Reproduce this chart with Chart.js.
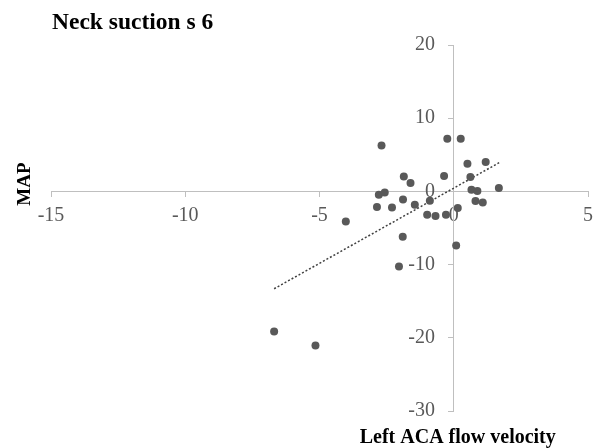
<!DOCTYPE html>
<html>
<head>
<meta charset="utf-8">
<script src="https://cdn.jsdelivr.net/npm/chart.js@4/dist/chart.umd.min.js"></script>
<style>
  html, body { margin: 0; padding: 0; background: #ffffff; }
  #wrap { position: relative; width: 595px; height: 448px; }
</style>
</head>
<body>
<div id="wrap"><canvas id="c" width="595" height="448"></canvas></div>
<script>
// ---- data ----
const flowVelocity = [-2.69, -0.24, 0.26, 0.51, 1.19, -0.36, 0.62, -1.86, -1.61, 1.68,
                      0.66, 0.88, -2.79, -2.57, -1.89, -0.89, 0.81, 1.08, -1.45, -2.86,
                      -2.30, 0.15, -0.99, -0.68, -0.29, -4.02, -1.90, 0.09, -2.04, -6.69, -5.15];
const mapValues    = [6.28, 7.2, 7.2, 3.78, 4.0, 2.09, 1.96, 2.05, 1.14, 0.45,
                      0.23, 0.05, -0.45, -0.14, -1.09, -1.27, -1.32, -1.50, -1.82, -2.14,
                      -2.19, -2.28, -3.19, -3.37, -3.19, -4.10, -6.19, -7.38, -10.25, -19.13, -21.04];
const trendX = [-6.69, 1.69];
const trendY = [-13.3, 3.92];
const xTicks = [-15, -10, -5, 0, 5];
const yTicks = [-30, -20, -10, 0, 10, 20];
const chartTitle = "Neck suction s 6";
const xTitle = "Left ACA flow velocity";
const yTitle = "MAP";

const points = flowVelocity.map((x, i) => ({ x: x, y: mapValues[i] }));
const trend = trendX.map((x, i) => ({ x: x, y: trendY[i] }));

const serif = "'Liberation Serif', 'Times New Roman', serif";

const textPlugin = {
  id: 'texts',
  afterDraw(chart) {
    const ctx = chart.ctx;
    const xs = chart.scales.x;
    ctx.save();
    ctx.fillStyle = '#000000';
    // title
    ctx.font = "bold 23.5px " + serif;
    ctx.textAlign = 'left';
    ctx.textBaseline = 'alphabetic';
    ctx.fillText(chartTitle, 52, 29);
    // x title
    ctx.font = "bold 20px " + serif;
    ctx.textAlign = 'center';
    ctx.fillText(xTitle, xs.getPixelForValue(0) + 4, 443);
    // y title
    ctx.font = "bold 19px " + serif;
    ctx.translate(30, 184);
    ctx.rotate(-Math.PI / 2);
    ctx.textAlign = 'center';
    ctx.textBaseline = 'alphabetic';
    ctx.fillText(yTitle, 0, 0);
    ctx.restore();
  }
};

const tickFont = { family: serif, size: 20 };

new Chart(document.getElementById('c'), {
  type: 'scatter',
  data: {
    datasets: [
      {
        label: 'MAP',
        data: points,
        backgroundColor: '#595959',
        borderWidth: 0,
        pointRadius: 4,
        pointHoverRadius: 4
      },
      {
        type: 'line',
        label: 'Trend',
        data: trend,
        borderColor: '#404040',
        borderWidth: 1.5,
        borderDash: [2, 2],
        pointRadius: 0,
        fill: false,
        showLine: true
      }
    ]
  },
  options: {
    responsive: false,
    animation: false,
    layout: { padding: { left: 51, right: 7, top: 45, bottom: 37 } },
    plugins: {
      legend: { display: false },
      tooltip: { enabled: false },
      title: { display: false }
    },
    scales: {
      x: {
        type: 'linear',
        position: { y: 0 },
        min: -15, max: 5,
        afterBuildTicks: (s) => { s.ticks = xTicks.map(v => ({ value: v })); },
        afterFit: (s) => { s.paddingLeft = 0; s.paddingRight = 0; },
        grid: { drawOnChartArea: false, drawTicks: true, tickLength: 5, color: '#bfbfbf' },
        border: { display: true, color: '#bfbfbf', width: 1 },
        ticks: { color: '#595959', font: tickFont, padding: 7, maxRotation: 0 }
      },
      y: {
        type: 'linear',
        position: { x: 0 },
        min: -30, max: 20,
        afterBuildTicks: (s) => { s.ticks = yTicks.map(v => ({ value: v })); },
        grid: { drawOnChartArea: false, drawTicks: true, tickLength: 5, color: '#bfbfbf' },
        border: { display: true, color: '#bfbfbf', width: 1 },
        ticks: { display: false }
      },
      yLabels: {
        type: 'linear',
        position: { x: -0.7 },
        min: -30, max: 20,
        afterBuildTicks: (s) => { s.ticks = yTicks.map(v => ({ value: v })); },
        afterFit: (s) => { s.width = 0; },
        grid: { display: false },
        border: { display: false },
        ticks: { color: '#595959', font: tickFont }
      }
    }
  },
  plugins: [textPlugin]
});
</script>
</body>
</html>
